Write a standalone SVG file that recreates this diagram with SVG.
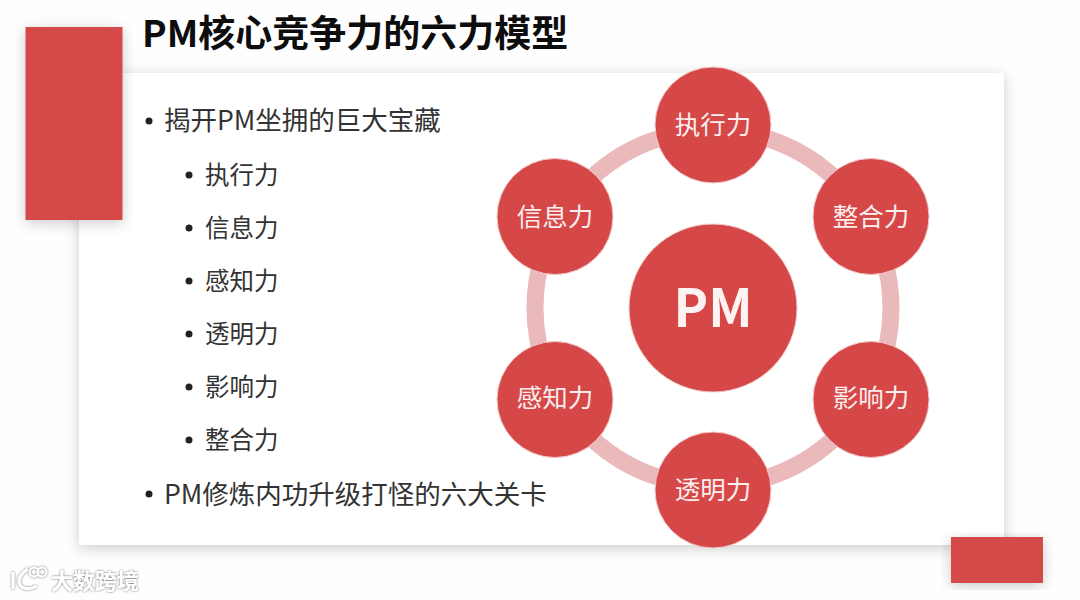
<svg xmlns="http://www.w3.org/2000/svg" width="1080" height="600" viewBox="0 0 1080 600">
<defs>
<filter id="sh" x="-10%" y="-10%" width="120%" height="125%"><feDropShadow dx="0" dy="3" stdDeviation="7" flood-color="#000" flood-opacity="0.2"/></filter>
<filter id="wm" x="-10%" y="-20%" width="120%" height="140%"><feDropShadow dx="0" dy="0" stdDeviation="1.200" flood-color="#666" flood-opacity="1"/></filter>
</defs>
<style>
text{font-family:"Noto Sans CJK SC","Noto Sans",sans-serif}
.red{fill:#d64848}
.t1{font-size:26.500px;fill:#333}
.t2{font-size:24.500px;fill:#333}
.dot{fill:#222}
.n{fill:#d64848;stroke:#f3c9c9;stroke-width:1}
.nt{font-size:25.500px;fill:#fbeeee;text-anchor:middle}
</style>
<rect width="1080" height="600" fill="#fefefe"/>
<rect id="panel" x="79" y="73" width="925" height="472" fill="#fff" filter="url(#sh)"/>
<rect id="deco-left" x="25.500" y="27" width="97" height="193" class="red" filter="url(#sh)"/>
<rect id="deco-right" x="951" y="537" width="92" height="46" class="red" filter="url(#sh)"/>
<text id="title" x="142" y="47" font-size="37" font-weight="700" fill="#0d0d0d">PM核心竞争力的六力模型</text>
<g id="bullets">
<circle class="dot" cx="149" cy="121" r="3.500"/><text class="t1" x="164" y="130">揭开PM坐拥的巨大宝藏</text>
<circle class="dot" cx="189" cy="175" r="3.500"/><text class="t2" x="205" y="184">执行力</text>
<circle class="dot" cx="189" cy="228" r="3.500"/><text class="t2" x="205" y="236.500">信息力</text>
<circle class="dot" cx="189" cy="281" r="3.500"/><text class="t2" x="205" y="289.500">感知力</text>
<circle class="dot" cx="189" cy="334" r="3.500"/><text class="t2" x="205" y="342.500">透明力</text>
<circle class="dot" cx="189" cy="387" r="3.500"/><text class="t2" x="205" y="395.500">影响力</text>
<circle class="dot" cx="189" cy="440" r="3.500"/><text class="t2" x="205" y="448.500">整合力</text>
<circle class="dot" cx="149" cy="494" r="3.500"/><text class="t1" x="164" y="504">PM修炼内功升级打怪的六大关卡</text>
</g>
<g id="connectors"><circle cx="713" cy="308" r="178" fill="none" stroke="#e9b9bb" stroke-width="17"/></g>
<g id="node-pm"><circle class="n" cx="713" cy="308" r="84"/><text x="713" y="327" font-size="52" font-weight="700" fill="#fdf3f3" text-anchor="middle">PM</text></g>
<g id="node-exec"><circle class="n" cx="713" cy="125" r="58"/><text class="nt" x="713" y="134">执行力</text></g>
<g id="node-integrate"><circle class="n" cx="871" cy="216.500" r="58"/><text class="nt" x="871" y="225.500">整合力</text></g>
<g id="node-influence"><circle class="n" cx="871" cy="399.500" r="58"/><text class="nt" x="871" y="407">影响力</text></g>
<g id="node-transparent"><circle class="n" cx="713" cy="490" r="58"/><text class="nt" x="713" y="499">透明力</text></g>
<g id="node-perceive"><circle class="n" cx="555" cy="399.500" r="58"/><text class="nt" x="555" y="407">感知力</text></g>
<g id="node-info"><circle class="n" cx="555" cy="216.500" r="58"/><text class="nt" x="555" y="225.500">信息力</text></g>
<g id="watermark" filter="url(#wm)">
<g fill="none" stroke="#fff" stroke-width="3"><path d="M13 572V589M28 569Q16 577 20 585Q26 592 37 586"/><circle cx="34" cy="572" r="4.500" stroke-width="2"/><circle cx="42" cy="572" r="4.500" stroke-width="2"/></g>
<text x="51" y="589" font-size="22" font-weight="700" fill="#fff">大数跨境</text>
</g>
</svg>
